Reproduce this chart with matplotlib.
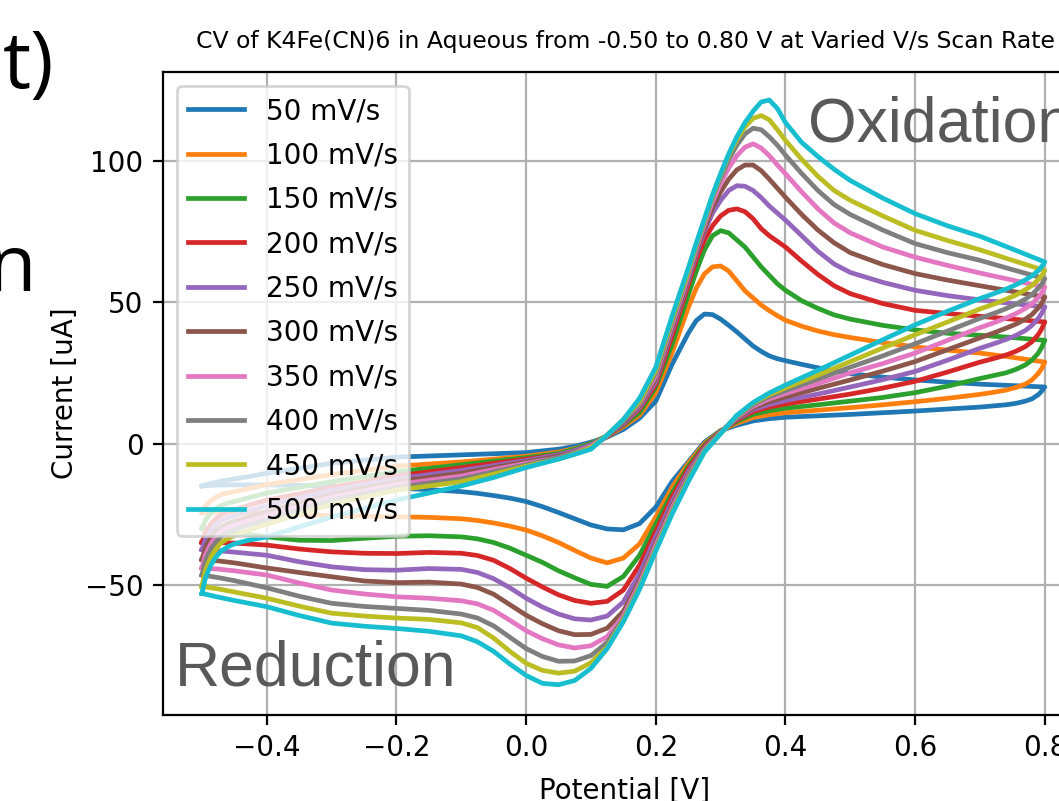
import matplotlib
matplotlib.use("Agg")
import matplotlib.pyplot as plt

# potentials of the read points (V)
E_FWD = [-0.5, -0.4975, -0.495, -0.49, -0.485, -0.478, -0.47, -0.46, -0.45, -0.43, -0.4,
         -0.3, -0.2, -0.1, -0.05, 0.0, 0.05, 0.075, 0.1,
         0.125, 0.15, 0.175, 0.2, 0.225, 0.25,
         0.2625, 0.275, 0.2875, 0.3, 0.3125, 0.325, 0.3375, 0.35, 0.3625, 0.375, 0.3875, 0.4,
         0.425, 0.45, 0.475, 0.5, 0.55, 0.6, 0.65, 0.7, 0.75, 0.8]
E_REV = [0.8, 0.795, 0.79, 0.78, 0.77, 0.755, 0.74, 0.72, 0.7,
         0.65, 0.6, 0.55, 0.5, 0.45, 0.4, 0.375, 0.35, 0.325, 0.3,
         0.275, 0.25, 0.225, 0.2, 0.175, 0.15, 0.125, 0.1, 0.075, 0.05, 0.025, 0.0,
         -0.025, -0.05, -0.075, -0.1, -0.15, -0.2, -0.25, -0.3, -0.35, -0.4, -0.45, -0.475, -0.5]

SCAN_RATES = [50, 100, 150, 200, 250, 300, 350, 400, 450, 500]

# forward (oxidation) sweep currents, uA
i_fwd_50 = [-15, -14.8, -14.6, -14.3, -14, -13.7, -13.3, -12.9, -12.5, -11.8, -10.5,
            -7, -4.8, -4, -3.6, -3.2, -2, -1, 0.5,
            2.3, 5, 9, 15, 28, 39,
            43.5, 45.8, 45.6, 44, 41.8, 39.5, 37, 34.5, 32.6, 31, 30, 29.3,
            28, 26.8, 25.7, 24.7, 23.5, 22.5, 21.7, 21, 20.5, 20]
i_fwd_100 = [-24.5, -23.5, -22.3, -21, -20, -19, -18, -17.5, -17, -16, -14.5,
             -11, -8, -6.5, -5.5, -4.5, -3, -1.8, 0,
             2.5, 6, 10, 18, 32, 48,
             55, 60, 62.5, 62.8, 61, 57.5, 54, 51.5, 49, 47, 45.2, 43.6,
             41.5, 39.8, 38.5, 37.5, 35.7, 34.2, 33, 32, 30.5, 28.8]
i_fwd_150 = [-30, -28.7, -27.3, -25.6, -24.3, -23, -21.8, -21, -20.5, -19.3, -17.5,
             -13.5, -10, -7.5, -6.2, -5, -3.5, -2, 0,
             2.8, 6.5, 11, 20, 35, 52.5,
             61, 68.5, 73.5, 75.3, 74.5, 72, 69.5, 66, 62.5, 59.5, 56.5, 54.2,
             50.5, 47.8, 45.5, 44, 41.8, 40.2, 39, 38.3, 37.5, 36.5]
i_fwd_200 = [-35, -33.4, -31.7, -29.7, -28.1, -26.5, -25.1, -24.2, -23.5, -22, -20,
             -15.5, -11.5, -8.5, -7, -5.5, -4, -2.5, -0.5,
             2.5, 6.8, 12.3, 21, 38, 56,
             65, 72, 77, 80.5, 82.5, 83, 82, 79.5, 76, 73.5, 71.5, 69.5,
             64.5, 59.8, 55.8, 53, 49.5, 47.1, 46, 45, 44, 43]
i_fwd_250 = [-37.5, -35.8, -34, -32, -30.3, -28.6, -27.2, -26.2, -25.5, -24, -22,
             -16.5, -12.5, -9.5, -7.8, -6, -4, -2.5, -0.5,
             2.7, 7, 12.8, 22, 40, 57.5,
             67, 75, 81.5, 86, 89.5, 91.2, 91, 89.5, 87, 84, 81.5, 79,
             73.5, 68, 63.5, 60.5, 57, 54.2, 52.3, 50.8, 49.5, 48.3]
i_fwd_300 = [-41, -39.1, -37.1, -34.8, -32.9, -31, -29.4, -28.3, -27.5, -26, -24,
             -18, -13.5, -10.5, -8.5, -6.5, -4.5, -3, -1,
             2.5, 7.5, 13.5, 23, 41, 58.5,
             68, 76, 83.5, 89, 93.5, 96.8, 98.5, 98.5, 96.5, 93.5, 90.3, 87.1,
             81, 75.5, 71, 67.5, 63.3, 60.1, 57.8, 55.8, 53.8, 51.8]
i_fwd_350 = [-44, -41.9, -39.7, -37.1, -35, -32.9, -31.1, -29.9, -29, -27.5, -25.5,
             -19, -14.5, -11.5, -9.2, -7, -5, -3.2, -1,
             2.8, 8, 14, 24, 42, 59.5,
             69, 77.5, 85.5, 92, 97.5, 101.8, 104.8, 106, 104.5, 101.8, 98.5, 95.4,
             89, 83, 78, 74.5, 69.5, 65.9, 63, 60.3, 57.8, 55.3]
i_fwd_400 = [-46.5, -44.3, -41.9, -39.1, -36.9, -34.7, -32.8, -31.5, -30.5, -29, -27,
             -20, -15.5, -12.5, -10, -7.5, -5, -3.3, -1.5,
             2.8, 8, 14.5, 25, 43, 60.5,
             70, 78.5, 87, 94, 100.5, 105.5, 109.5, 111.5, 111, 108.5, 105.5, 102,
             95.5, 89.5, 84.5, 81, 75.5, 70.7, 67.5, 64.8, 61.5, 58.3]
i_fwd_450 = [-50.5, -48, -45.3, -42.2, -39.7, -37.2, -35, -33.6, -32.5, -30.8, -28.5,
             -21.5, -16.5, -13.5, -10.8, -8, -5.5, -3.6, -1.5,
             3, 8.5, 15, 26, 44, 61,
             70.5, 79, 87.5, 95, 102, 107.5, 112, 115, 116, 114.5, 111, 107.2,
             100.5, 94.5, 89.5, 86, 80.5, 75.4, 71.8, 68.5, 64.8, 61.2]
i_fwd_500 = [-53, -50.5, -48, -45, -42.5, -40, -38, -36.5, -35.5, -34.3, -33,
             -26, -20, -15, -12, -8.5, -5.5, -3.8, -2,
             3, 8.5, 16, 27, 45, 62,
             71, 79.5, 88, 95.5, 102.5, 108.5, 113.5, 117.5, 120.8, 121.5, 118.5, 113.5,
             106.5, 101.5, 97, 93, 86.8, 81.3, 77, 73.3, 68.8, 64.2]

# reverse (reduction) sweep currents, uA
i_rev_50 = [20, 18.5, 17.3, 15.8, 15, 14.2, 13.7, 13.3, 12.9,
            12.2, 11.5, 10.9, 10.3, 9.8, 9.3, 8.8, 8, 6.5, 4.6,
            0.5, -6.5, -13.5, -22.5, -28.3, -30.5, -30.2, -28.8, -26.6, -24.4, -22.3, -20.5,
            -19.3, -18.4, -17.6, -17, -16.3, -15.8, -15.4, -15.1, -14.8, -14.6, -14.6, -14.7, -15]
i_rev_100 = [28.8, 26.5, 24.8, 22.5, 21, 19.8, 18.9, 18.1, 17.4,
             16, 14.8, 13.7, 12.7, 11.8, 10.9, 10.2, 9.2, 7.2, 4.5,
             0, -7, -15.5, -26, -35.5, -40.5, -42.2, -40.5, -37.8, -35, -32.6, -30.6,
             -29.2, -28.1, -27.2, -26.6, -26.1, -25.9, -25.7, -25.5, -25.1, -24.6, -24.2, -24.2, -24.5]
i_rev_150 = [36.5, 34, 32, 29.5, 27.8, 26.2, 25, 24, 23,
             20.3, 18, 16.3, 15, 13.7, 12.5, 11.6, 10.3, 7.8, 4.4,
             -0.5, -8, -17.5, -28.5, -39.5, -47, -50.5, -49.8, -47.5, -45, -42, -39.5,
             -37, -35, -33.7, -33, -32.6, -32.8, -33.5, -34.3, -34.2, -33, -31.5, -30.7, -30]
i_rev_200 = [43, 40.5, 38.6, 36, 34.3, 32.6, 31.3, 30, 28.8,
             25.3, 22, 19.6, 17.5, 15.7, 14, 12.9, 11.3, 8.3, 4.2,
             -1, -9, -19, -31, -43, -51.8, -55.8, -56.5, -55.5, -53.5, -50.7, -47.6,
             -44.2, -41.3, -39.6, -38.8, -38.5, -38.9, -38.8, -38.3, -37.3, -35.9, -35.2, -35, -35]
i_rev_250 = [48.3, 46, 44.3, 41.8, 40, 38.2, 36.8, 35.2, 33.7,
             29.5, 25.5, 22.6, 20, 17.5, 15.2, 13.8, 12, 8.7, 4.1,
             -1.5, -10, -20.5, -33, -46, -56, -61, -62.4, -62, -60.3, -57.8, -54.7,
             -51, -47.8, -45.6, -44.5, -44.2, -44.8, -44.6, -43.6, -41.8, -39.5, -38.4, -37.9, -37.5]
i_rev_300 = [51.8, 49.6, 48, 45.6, 44, 42.2, 40.8, 39, 37.4,
             33.2, 29, 25.6, 22.5, 19.5, 16.5, 14.8, 12.6, 9, 4,
             -1.8, -11, -22, -35, -48.5, -59.3, -65.3, -67.5, -67.6, -66.2, -63.7, -60.7,
             -57, -53.3, -50.9, -49.7, -49, -49.2, -48.6, -47.1, -45.6, -44, -42.2, -41.5, -41]
i_rev_350 = [55.3, 53.2, 51.7, 49.4, 47.8, 45.9, 44.4, 42.6, 41,
             36.5, 32, 28.3, 25, 21.2, 17.7, 15.8, 13.2, 9.3, 3.9,
             -2.2, -11.5, -23, -36, -49.5, -61, -68.3, -71.5, -72.3, -71.2, -69, -66.2,
             -62.5, -59, -56.7, -55.6, -54.7, -54.2, -53.2, -51.8, -49.3, -46.5, -45, -44.4, -44]
i_rev_400 = [58.3, 56.3, 54.9, 52.7, 51.1, 49.2, 47.7, 45.9, 44.3,
             39.8, 35.3, 31, 27, 22.8, 18.7, 16.6, 13.8, 9.5, 3.8,
             -2.5, -12, -24, -37, -50.5, -62, -70.3, -75, -76.9, -77, -75.3, -72.5,
             -68.5, -64.5, -61.7, -60.3, -59, -58.3, -57.6, -56.5, -54, -51, -48.5, -47.4, -46.5]
i_rev_450 = [61.2, 59.3, 58, 55.9, 54.4, 52.5, 51, 49.2, 47.6,
             43, 38.5, 33.8, 29, 24.2, 19.7, 17.3, 14.3, 9.8, 3.6,
             -2.8, -13, -24.5, -37.5, -51, -62.5, -72, -77.5, -80.5, -81.2, -80.2, -77.7,
             -73.5, -68.8, -65.1, -63.4, -62.2, -61.7, -61, -60, -57.5, -54.7, -52.5, -51.4, -50.5]
i_rev_500 = [64.2, 62.5, 61.2, 59.3, 57.9, 56.1, 54.6, 52.9, 51.3,
             46.8, 42, 36.7, 31.3, 25.9, 20.7, 17.9, 14.5, 10, 3.5,
             -3, -13.5, -25, -38, -51.5, -63, -72.5, -79.5, -83.8, -85.3, -84.8, -82,
             -78, -73.5, -70.1, -68, -66.4, -65.4, -64.6, -63.5, -60.8, -57.7, -55.5, -54.3, -53]

fwd_all = [i_fwd_50, i_fwd_100, i_fwd_150, i_fwd_200, i_fwd_250,
           i_fwd_300, i_fwd_350, i_fwd_400, i_fwd_450, i_fwd_500]
rev_all = [i_rev_50, i_rev_100, i_rev_150, i_rev_200, i_rev_250,
           i_rev_300, i_rev_350, i_rev_400, i_rev_450, i_rev_500]

W, H, DPI = 1059, 801, 200
fig = plt.figure(figsize=(W / DPI, H / DPI), dpi=DPI)
ax = fig.add_axes([163 / W, (H - 715) / H, (1087 - 163) / W, (715 - 72) / H])

for rate, i_f, i_r in zip(SCAN_RATES, fwd_all, rev_all):
    ax.plot(E_FWD + E_REV, i_f + i_r, lw=1.7, label=f"{rate} mV/s")

ax.set_xlim(-0.56, 0.865)
ax.set_ylim(-96, 131.4)
ax.set_xticks([-0.4, -0.2, 0.0, 0.2, 0.4, 0.6, 0.8])
ax.set_yticks([-50, 0, 50, 100])
ax.grid(True)
ax.set_xlabel("Potential [V]")
ax.set_ylabel("Current [uA]")
ax.xaxis.set_label_coords(0.5, -0.0964)
ax.yaxis.set_label_coords(-0.0914, 0.5)
ax.set_title("CV of K4Fe(CN)6 in Aqueous from -0.50 to 0.80 V at Varied V/s Scan Rate",
             fontsize=8.45, pad=8.6)
ax.legend(loc="upper left", labelspacing=0.59)

# slide annotations around the chart
fig.text(175 / W, (H - 686) / H, "Reduction", family="Liberation Sans",
         fontsize=22.5, color="#595959", va="baseline", ha="left")
fig.text(808 / W, (H - 141.7) / H, "Oxidation", family="Liberation Sans",
         fontsize=22.5, color="#595959", va="baseline", ha="left")
fig.text(54 / W, (H - 88) / H, "t)", family="Open Sans", fontsize=28.5,
         color="black", va="baseline", ha="right")
fig.text(36 / W, (H - 291) / H, "n", family="Open Sans", fontsize=28.5,
         color="black", va="baseline", ha="right")

fig.savefig("out.png", dpi=DPI)
